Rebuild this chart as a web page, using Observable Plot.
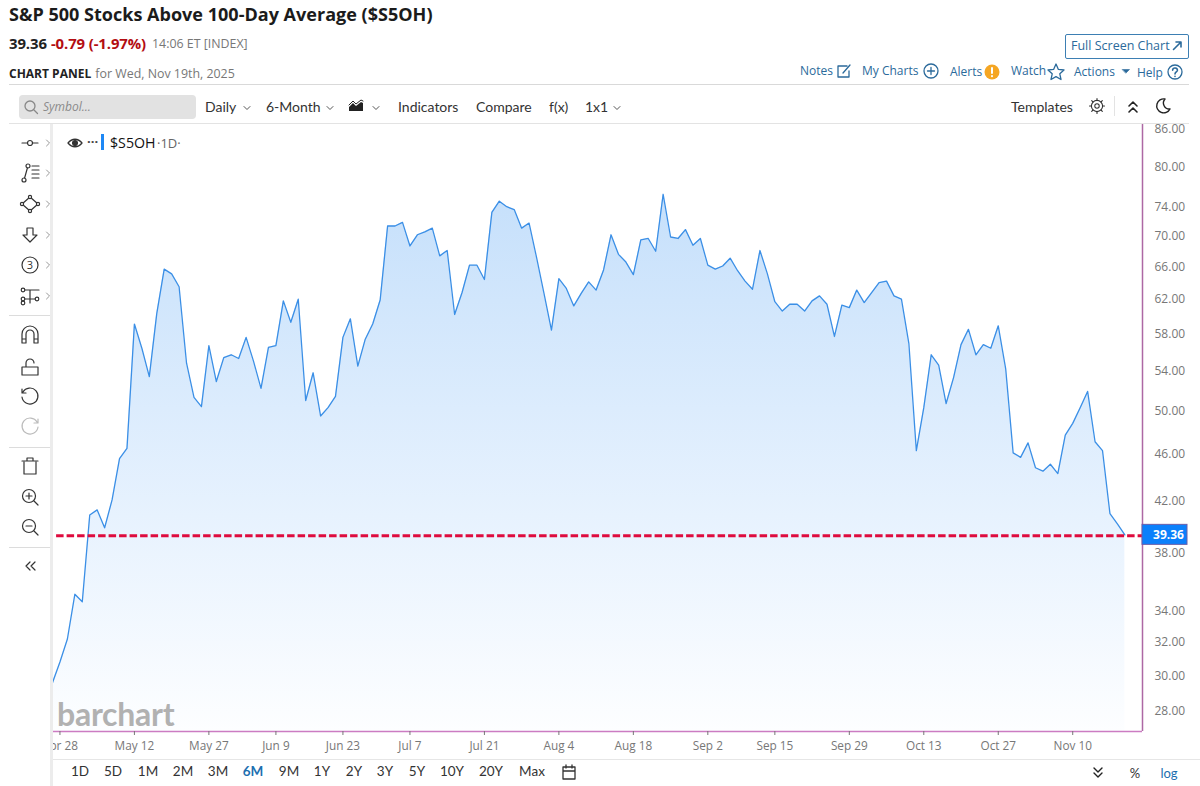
<!DOCTYPE html>
<html>
<head>
<meta charset="utf-8">
<script src="https://cdn.jsdelivr.net/npm/d3@7"></script>
<script src="https://cdn.jsdelivr.net/npm/@observablehq/plot@0.6"></script>
<style>
html,body{margin:0;padding:0;background:#fff;width:1200px;height:786px;overflow:hidden}
body{font-family:"Open Sans",sans-serif;position:relative}
.t{position:absolute;white-space:nowrap;line-height:1;transform:translateY(-50%)}
.c{transform:translate(-50%,-50%)}
.l{font-family:Lato,sans-serif}
.h{position:absolute;background:#d9d9d9;height:1px}
.i{position:absolute;overflow:visible}
#chart{position:absolute;left:0;top:114px}
#rail{position:absolute;left:0;top:124px;width:50px;height:662px;background:#fff;border-right:3px solid #ececec}
</style>
</head>
<body>
<div id="chart"></div>
<div id="rail"></div>
<div id="chrome"></div>
<script>
// ---- chart data (trading days Apr 25 → Nov 19, 2025) ----
const breadth = [
29.6,30.8,32.2,35.1,34.6,40.9,41.3,39.9,42.1,45.6,46.5,59.1,56.4,53.4,60.3,65.7,65.1,63.5,54.8,51.3,
50.4,56.7,52.9,55.4,55.7,55.3,57.6,55.0,52.2,56.5,56.7,61.8,59.3,62.0,51.0,53.8,49.5,50.3,51.4,57.6,
59.7,54.5,57.4,59.1,61.9,71.4,71.4,71.9,68.7,70.2,70.6,71.1,67.4,68.1,60.2,62.8,66.2,66.2,64.4,73.3,
74.9,74.1,73.7,71.1,71.8,67.2,62.7,58.4,64.5,63.3,61.2,62.7,64.1,63.1,65.6,70.2,67.6,66.6,65.0,69.5,
69.7,68.0,75.9,69.9,69.7,70.9,68.8,69.7,66.2,65.7,66.1,67.1,65.5,64.2,63.2,68.1,65.1,61.7,60.6,61.4,
61.4,60.6,61.8,62.4,61.4,57.7,61.3,61.0,63.1,61.6,62.8,64.0,64.2,62.4,62.0,56.9,46.3,50.3,55.7,54.6,
50.7,53.3,56.8,58.5,55.7,56.8,56.4,58.9,54.2,46.1,45.7,47.0,44.8,44.5,45.1,44.3,47.7,48.8,50.3,51.9,
47.1,46.3,41.0,40.2,39.36];
const lastValue = 39.36;
const dayTicks = [1,11,21,30,39,48,58,68,78,88,97,107,117,127,137];
const dayLabels = ["Apr 28","May 12","May 27","Jun 9","Jun 23","Jul 7","Jul 21","Aug 4","Aug 18","Sep 2","Sep 15","Sep 29","Oct 13","Oct 27","Nov 10"];
const priceTicks = [86,80,74,70,66,62,58,54,50,46,42,38,34,32,30,28];
const dayDomain = [0.134,146.37];
const priceDomain = [26.94,86.83];

const series = breadth.map((v,i)=>({i,v}));
const gradient = () => {
  const defs = d3.create("svg:defs");
  const g = defs.append("linearGradient").attr("id","fade").attr("x1",0).attr("x2",0).attr("y1",0).attr("y2",1);
  g.append("stop").attr("offset","0%").attr("stop-color","#c6e0fb");
  g.append("stop").attr("offset","60%").attr("stop-color","#e7f2fe");
  g.append("stop").attr("offset","100%").attr("stop-color","#fdfeff");
  return defs.node();
};
const plot = Plot.plot({
  width:1200,height:646,marginTop:10,marginBottom:29,marginLeft:53,marginRight:58,
  style:{fontFamily:"'Open Sans',sans-serif",fontSize:"12px",background:"transparent"},
  x:{type:"linear",domain:dayDomain,range:[53,1142]},
  y:{type:"log",domain:priceDomain,range:[617,10]},
  marks:[
    gradient,
    Plot.areaY(series,{x:"i",y1:priceDomain[0],y2:"v",fill:"url(#fade)",clip:true}),
    Plot.lineY(series,{x:"i",y:"v",stroke:"#3b8fe6",strokeWidth:1.3,clip:true}),
    Plot.ruleY([lastValue],{x1:0.55,x2:dayDomain[1],dy:1,stroke:"#de0b3e",strokeWidth:3,strokeDasharray:"7.5,3"}),
    Plot.ruleX([dayDomain[1]],{stroke:"#ad68a4",strokeWidth:1.5}),
    Plot.ruleY([priceDomain[0]],{stroke:"#cc7cc2",strokeWidth:1.5}),
    Plot.axisX({ticks:dayTicks,tickFormat:d=>dayLabels[dayTicks.indexOf(d)],tickSize:4,tickPadding:6,color:"#777",label:null,fontSize:11.8}),
    Plot.axisY({anchor:"right",ticks:priceTicks,tickFormat:d=>d.toFixed(2),tickSize:0,tickPadding:12,color:"#777",label:null,fontSize:12}),
    Plot.rect([lastValue],{x1:dayDomain[1],x2:dayDomain[1],y1:d=>d,y2:d=>d,insetLeft:0,insetRight:-45,insetTop:-10,insetBottom:-10,fill:"#0b80fb",stroke:"#6a5ea8"}),
    Plot.text([lastValue],{x:dayDomain[1],y:d=>d,text:d=>d.toFixed(2),dx:26,fill:"#fff",fontWeight:"bold",fontSize:12})
  ]
});
document.getElementById("chart").appendChild(plot);

// ---- page chrome (labels around the chart) ----
const blue="#2b6a9b", dk="#222", gr="#777";
let html="";
const T=(s,x,y,css="",cls="")=>{html+=`<span class="t ${cls}" style="left:${x}px;top:${y}px;${css}">${s}</span>`};
const H=(x,y,w,c="#d9d9d9")=>{html+=`<div class="h" style="left:${x}px;top:${y}px;width:${w}px;background:${c}"></div>`};
const I=(x,y,body,c="#333",w=1.3)=>{html+=`<svg class="i" style="left:${x-12}px;top:${y-12}px" width="24" height="24" viewBox="-12 -12 24 24" fill="none" stroke="${c}" stroke-width="${w}" stroke-linecap="round" stroke-linejoin="round">${body}</svg>`};

T("S&amp;P 500 Stocks Above 100-Day Average ($S5OH)",9,14,`font-size:18.05px;font-weight:700;color:#1b1b1b`);
T(`<b style="color:${dk};font-size:14.9px">39.36</b> <b style="color:#b30d12;font-size:14.9px">-0.79 (-1.97%)</b>`,9,43,"letter-spacing:-.1px");
T("14:06 ET [INDEX]",152,44,`font-size:12.4px;color:${gr}`);
T(`<b style="color:${dk};font-size:12px">CHART PANEL</b> <span style="color:${gr};font-size:12.4px">for Wed, Nov 19th, 2025</span>`,9,72);
H(9,84,1180);H(9,123,1180,"#e3e3e3");

html+=`<div style="position:absolute;left:1065px;top:34px;width:122px;height:23px;border:1px solid #3d7fb3;border-radius:2px"></div>`;
T("Full Screen Chart",1071,46,`font-size:12.5px;color:${blue}`);
I(1177,46,`<path d="M-3.5 3.5L3.5-3.5M-1-4H4V1" stroke-width="1.6"/>`,blue);
T("Notes",800,71,`font-size:12px;color:${blue}`);
I(844,71,`<path d="M3-5H-6V6H5V0M-1 2L6-6"/>`,blue);
T("My Charts",862,71,`font-size:12px;color:${blue}`);
I(931,71,`<circle r="7"/><path d="M-3.5 0H3.5M0-3.5V3.5"/>`,blue);
T("Alerts",950,72,`font-size:12px;color:${blue}`);
I(992,72,`<circle r="7.5" fill="#f5a623" stroke="none"/><path d="M0-4V1M0 4V4.2" stroke="#fff" stroke-width="2"/>`,blue);
T("Watch",1011,71,`font-size:12px;color:${blue}`);
I(1056,72,`<path d="M0-8L2.4-2.6L8-2L3.8 1.8L5 7.5L0 4.6L-5 7.5L-3.8 1.8L-8-2L-2.4-2.6Z"/>`,blue);
T("Actions",1074,72,`font-size:12px;color:${blue}`);
I(1126,71,`<path d="M-3.5-1.5H3.5L0 2Z" fill="${blue}"/>`,blue,.6);
T("Help",1137,73,`font-size:12px;color:${blue}`);
I(1175,72,`<circle r="7"/><path d="M-2.4-1.8C-2-5 2.6-4.4 2.4-1.6C2.2 0 0 0 0 2M0 4.4V4.5" stroke-width="1.6"/>`,blue);

html+=`<div style="position:absolute;left:19px;top:95px;width:177px;height:24px;background:#e2e2e2;border-radius:4px"></div>`;
I(31,107,`<circle cx="-1" cy="-1" r="5"/><path d="M3 3L6.5 6.5"/>`,"#888");
T("Symbol...",43,107,`font-size:12px;font-style:italic;color:#8a8a8a`,"");
const chev=(x,y,c="#555")=>I(x,y,`<path d="M-3-1.5L0 1.5L3-1.5"/>`,c,1);
const bar="font-family:Lato,sans-serif;font-size:14px;color:#333";
T("Daily",205,107,bar);chev(247,108);
T("6-Month",266,107,bar);chev(330,108);
I(356,106,`<path d="M-7 5L-7 1L-3-3L0 0L5-4L7-3V5Z" fill="#222" stroke="none"/><path d="M-7-1L-3-5L0-2L5-6L7-5" stroke-width="1"/>`,"#222");chev(376,108);
T("Indicators",398,107,bar);
T("Compare",476,107,bar);
T("f(x)",549,107,bar);
T("1x1",585,107,bar);chev(617,108);
T("Templates",1011,107,bar);
I(1097,106,`<circle r="2.2"/><circle r="5.6"/><path d="M0-5.6V-7.5M0 5.6V7.5M-5.6 0H-7.5M5.6 0H7.5M-4-4L-5.3-5.3M4 4L5.3 5.3M-4 4L-5.3 5.3M4-4L5.3-5.3"/>`,"#333",1.1);
html+=`<div style="position:absolute;left:1114px;top:96px;width:1px;height:20px;background:#e3e3e3"></div>`;
I(1133,107,`<path d="M-4-1L0-5L4-1M-4 5L0 1L4 5"/>`,"#222",1.6);
I(1163,106,`<path d="M2-7A7 7 0 1 0 7 3A6 6 0 0 1 2-7Z"/>`,"#222",1.4);

// legend
I(75,143,`<path d="M-7 0C-3-5 3-5 7 0C3 5-3 5-7 0Z"/><circle r="2.4" fill="#333"/>`,"#333");
T("···",87,141,"font-size:13px;font-weight:700;color:#444");
html+=`<div style="position:absolute;left:101px;top:134px;width:3px;height:16px;background:#1e88f5"></div>`;
T("$S5OH",110,143,"font-size:14.2px;color:#111");
T("·1D·",157,143,"font-size:13px;color:#666");

// left tools
const tools=[
[143,`<path d="M-8 0H-3M3 0H8"/><circle r="2.5"/>`,1],
[173,`<circle cx="-6" cy="7" r="2"/><circle cx="-2" cy="-7" r="2"/><path d="M-5.4 5L-2.6-5M2-7H9M2-3H9M2 1H9M2 5H9"/>`,1],
[204,`<path d="M-8 0L0-7L8 0L0 7Z"/><circle cx="-8" r="1.6" fill="#fff"/><circle cx="8" r="1.6" fill="#fff"/><circle cy="-7" r="1.6" fill="#fff"/><circle cy="7" r="1.6" fill="#fff"/>`,1],
[235,`<path d="M-3-7H3V0H7L0 7L-7 0H-3Z"/>`,1],
[265,`<circle r="8"/><text text-anchor="middle" y="4" font-size="11" fill="#333" stroke="none">3</text>`,1],
[296,`<circle cx="-7" cy="-6" r="1.8"/><circle cx="-7" cy="3" r="1.8"/><circle cx="-7" cy="7" r="1.8"/><circle cx="7" cy="3" r="1.8"/><path d="M-5-6H9M0-6V7M-5 3H5"/>`,1],
[335,`<path d="M-8 8V-1A8 8 0 0 1 8-1V8H4V-1A4 4 0 0 0-4-1V8ZM-8 4H-4M4 4H8"/>`,0],
[367,`<path d="M-8 0H8V8H-8ZM-4 0V-4A4 4 0 0 1 4-4"/>`,0],
[397,`<path d="M-7-5A8 8 0 1 1-8 0M-8-8V-4H-4"/>`,0],
[427,`<path d="M7-5A8 8 0 1 0 8 0M8-8V-4H4"/>`,2],
[466,`<path d="M-6-4V8H6V-4M-8-5H8M-3-5V-8H3V-5"/>`,0],
[497,`<circle cx="-1" cy="-1" r="6.5"/><path d="M4 4L8 8M-4-1H2M-1-4V2"/>`,0],
[527,`<circle cx="-1" cy="-1" r="6.5"/><path d="M4 4L8 8M-4-1H2"/>`,0],
[566,`<path d="M0-4L-4 0L0 4M5-4L1 0L5 4"/>`,0]];
tools.forEach(([y,b,k])=>{I(30,y,b,k==2?"#bbb":"#333",1.2);if(k==1)I(48,y,`<path d="M-1.5-3L1.5 0L-1.5 3"/>`,"#999",1)});
[315,447,547].forEach(y=>H(9,y,41,"#dcdcdc"));

// watermark
T("barchart",57,714,"font-family:Lato,sans-serif;font-weight:700;font-size:32px;color:#b1b1b1;letter-spacing:-.25px");

// range row
H(53,759,1147,"#e6e6e6");
[["1D",80],["5D",113],["1M",148],["2M",183],["3M",218],["6M",253],["9M",289],["1Y",322],["2Y",354],["3Y",385],["5Y",417],["10Y",452],["20Y",491],["Max",532]]
 .forEach(([s,x])=>T(s,x,772,s=="6M"?"font-size:13.5px;font-weight:700;color:#1d6fb0":"font-size:13.5px;color:#333","c l"));
I(569,772,`<path d="M-6-5H6V7H-6ZM-6-1H6M-3-7V-4M3-7V-4"/>`,"#333");
I(1098,772,`<path d="M-4-4L0 0L4-4M-4 1L0 5L4 1"/>`,"#222",1.4);
T("%",1135,773,"font-size:13px;color:#333","c l");
T("log",1169,773,"font-size:13px;color:#1d6fb0","c l");
document.getElementById("chrome").innerHTML=html;
</script>
</body>
</html>
